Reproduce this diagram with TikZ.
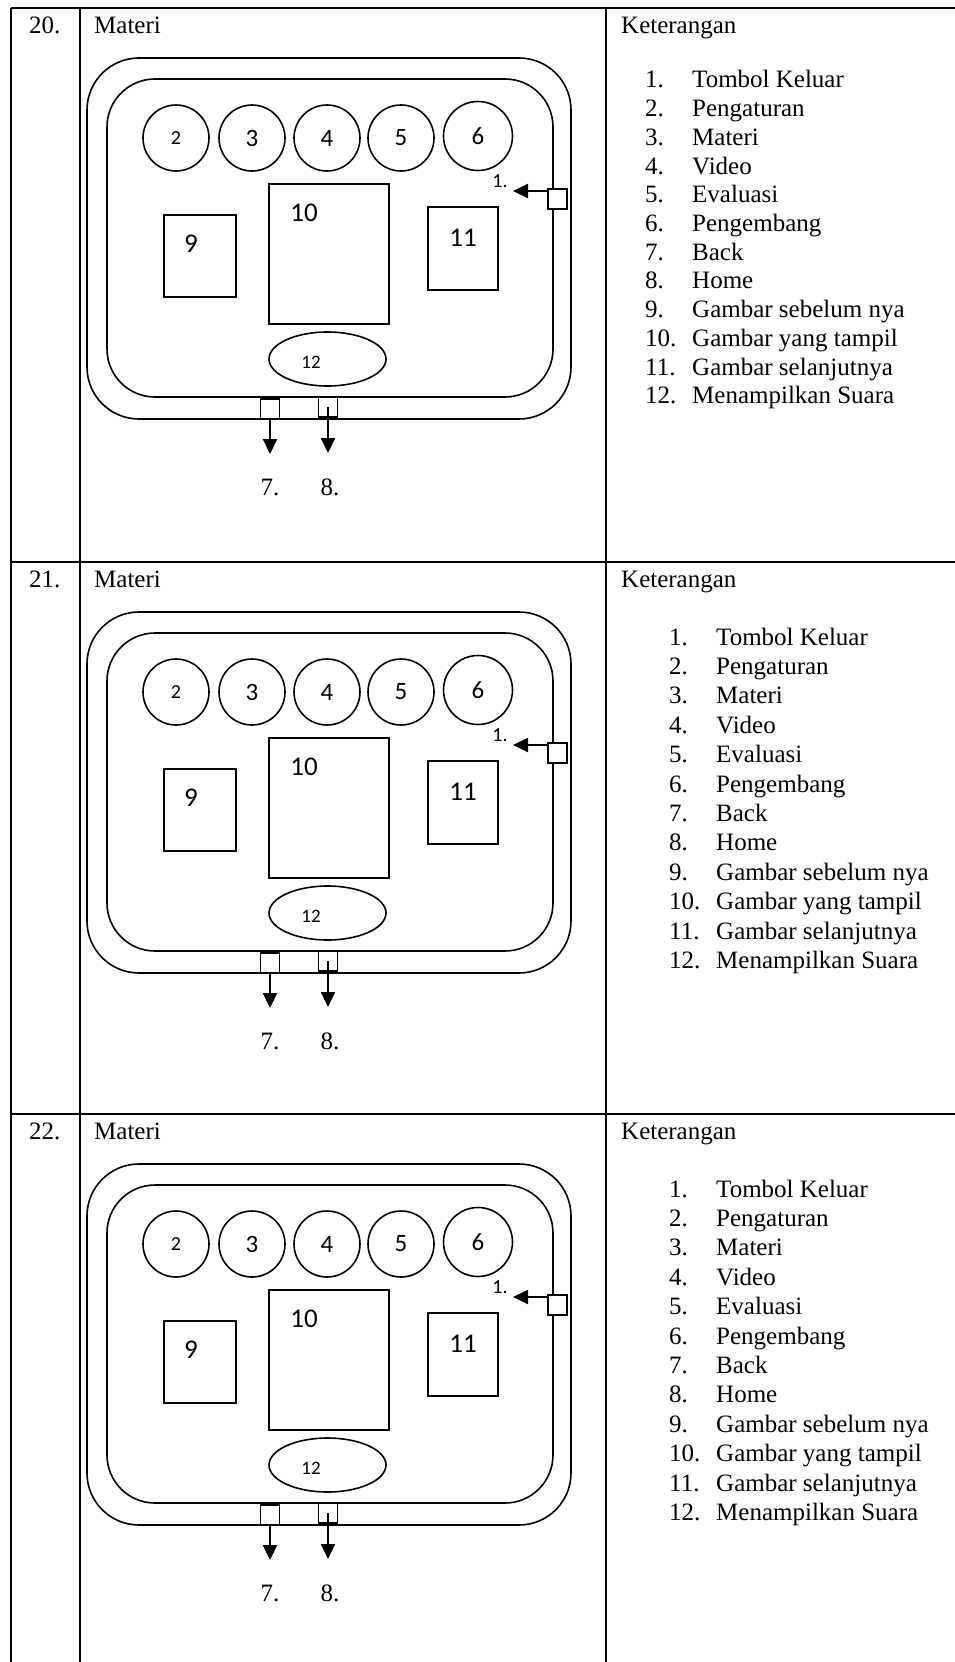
\documentclass[tikz,border=0pt]{standalone}
\usepackage{fontspec}
\setmainfont{Liberation Serif}
\newfontfamily\calib{Carlito}
\usetikzlibrary{arrows.meta,positioning,calc,shapes.geometric}

\begin{document}
\begin{tikzpicture}[x=1pt, y=-1pt, >={Triangle[length=15pt,width=14pt]},
  rule/.style={line width=2pt},
  screen/.style={draw, line width=1.6pt, rounded corners=#1, inner sep=0pt},
  btn/.style={draw, line width=1.6pt, circle, minimum size=66pt, inner sep=0pt},
  shot/.style={draw, line width=1.6pt, rectangle, inner sep=0pt},
  sq/.style={draw, line width=1.6pt, fill=white, minimum width=19pt, minimum height=20pt, inner sep=0pt},
  sans/.style={inner sep=0pt, font=\calib\fontsize{#1}{#1}\selectfont},
  serif/.style={inner sep=0pt, anchor=base west, font=\fontsize{25}{30}\selectfont},
  arr/.style={->, line width=2.2pt}]
\useasboundingbox (0,0) rectangle (955,1662);
% table rules
\draw[rule] (11,8) -- (955,8);
\draw[rule] (11,562) -- (955,562);
\draw[rule] (11,1114) -- (955,1114);
\draw[rule] (11,8) -- (11,1662);
\draw[rule] (80,8) -- (80,1662);
\draw[rule] (606,8) -- (606,1662);
% one table row per sketch
\foreach \r/\yo/\num/\lx/\ly/\ld in {1/8/20./645/80/28.7, 2/562/21./669/83/29.4, 3/1114/22./669/83/29.4}{
\begin{scope}[shift={(0,\yo)}]
\node[serif] (no\r) at (29,25.5) {\num};
\node[serif] (title\r) at (94,25.5) {Materi};
\node[serif] (ket\r) at (621,25.5) {Keterangan};
\node[screen=52pt, minimum width=484pt, minimum height=361pt] (outer\r) at (329,230.5) {};
\node[screen=48pt, minimum width=446pt, minimum height=318pt] (inner\r) at (330,230) {};
\node[btn, sans=20] (c2-\r) at (176,130) {2};
\node[btn, sans=25] (c3-\r) at (252,130) {3};
\node[btn, sans=25] (c4-\r) at (327,130) {4};
\node[btn, sans=25] (c5-\r) at (401,130) {5};
\node[btn, sans=25, minimum size=69pt] (c6-\r) at (478,128) {6};
\node[shot, minimum width=72pt, minimum height=82pt] (prev\r) at (200,248) {};
\node[shot, minimum width=120pt, minimum height=140pt] (show\r) at (329,246) {};
\node[shot, minimum width=70pt, minimum height=83pt] (next\r) at (463,240.5) {};
\node[draw, line width=1.6pt, ellipse, minimum width=117pt, minimum height=54pt, inner sep=0pt] (sound\r) at (327.5,351) {};
\node[sans=27] (l9-\r) at (191,236) {9};
\node[sans=27] (l10-\r) at (304,205) {10};
\node[sans=27] (l11-\r) at (463,230) {11};
\node[sans=19] (l12-\r) at (311,354) {12};
\node[sq] (exit\r) at (557.5,191) {};
\node[sq] (back\r) at (270,401) {};
\node[sq] (home\r) at (328,399) {};
\coordinate (tip1-\r) at (513,183);
\coordinate (tip7-\r) at (270,446);
\coordinate (tip8-\r) at (328,445);
\draw[arr] (exit\r.west |- tip1-\r) -- (tip1-\r);
\draw[arr] (back\r.south) -- (tip7-\r);
\draw[arr] (home\r.center) -- (tip8-\r);
\node[sans=20] (l1-\r) at (500,173) {1.};
\node[serif, anchor=base] (l7-\r) at (270,487) {7.};
\node[serif, anchor=base] (l8-\r) at (330,487) {8.};
\foreach \t [count=\k] in {Tombol Keluar, Pengaturan, Materi, Video, Evaluasi, Pengembang, Back, Home, Gambar sebelum nya, Gambar yang tampil, Gambar selanjutnya, Menampilkan Suara}{
  \node[serif] (n\r-\k) at (\lx,\ly+\ld*\k-\ld) {\k.};
  \node[serif] (t\r-\k) at (\lx+47,\ly+\ld*\k-\ld) {\t};
}
\end{scope}
}
\end{tikzpicture}
\end{document}
